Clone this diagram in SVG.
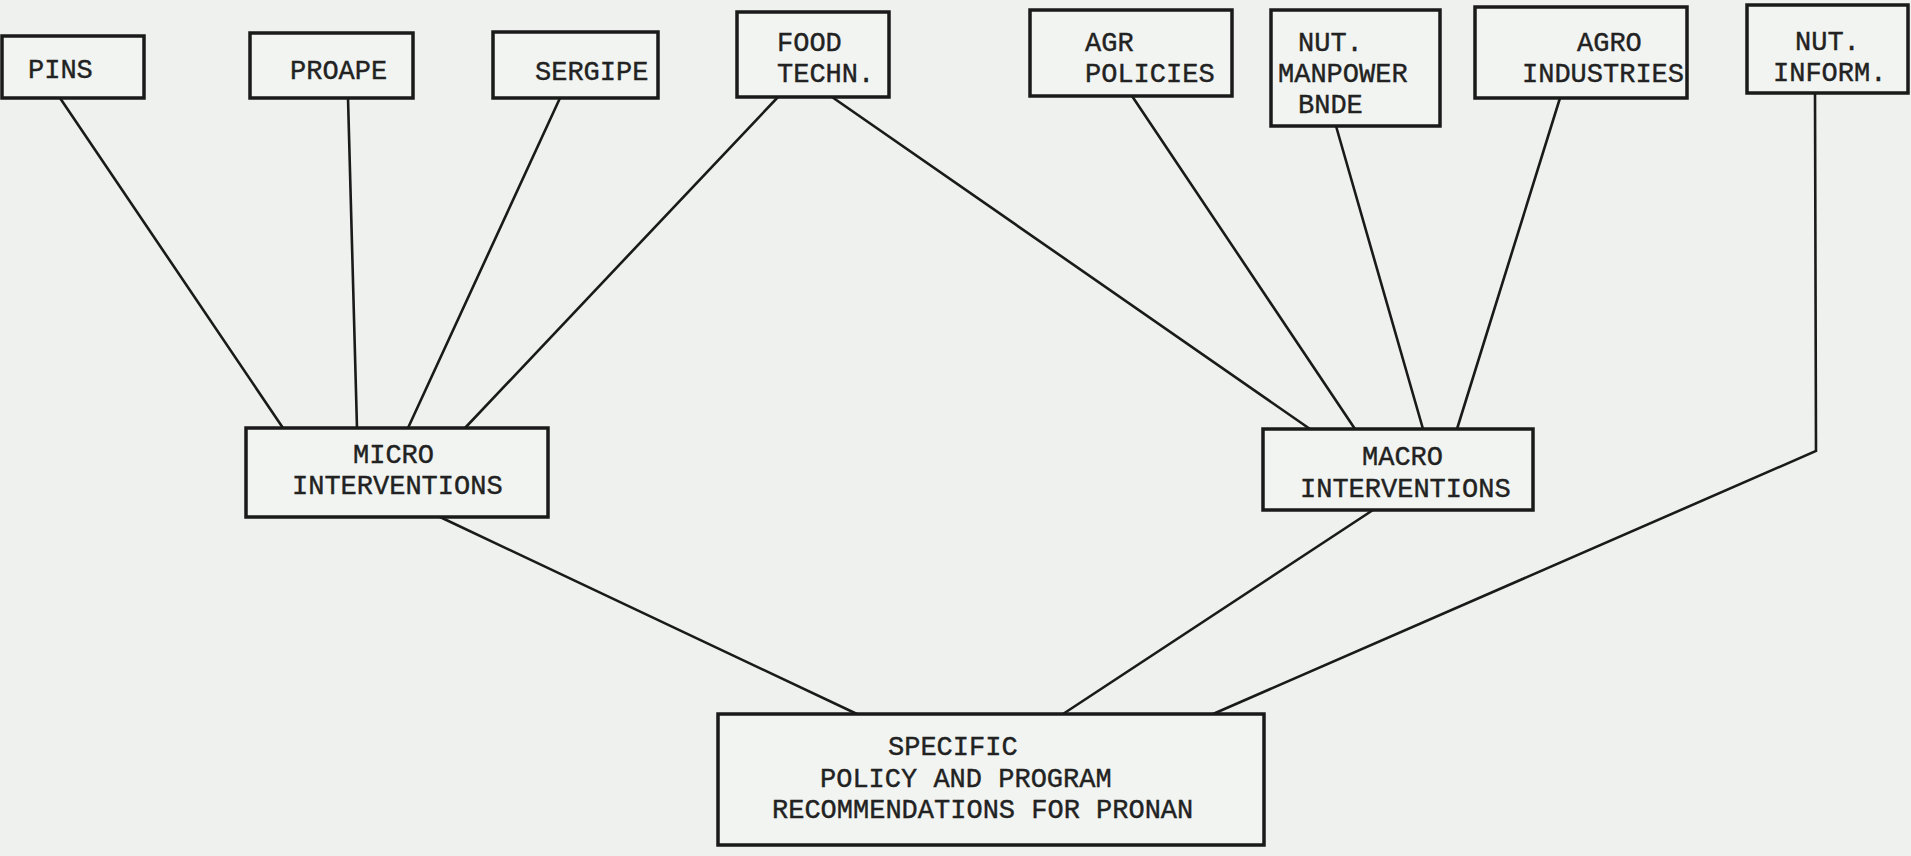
<svg xmlns="http://www.w3.org/2000/svg" width="1911" height="856" viewBox="0 0 1911 856">
<style>
.bg{fill:#eef1ee}
.box{fill:#f1f4f1;stroke:#1a1a1a;stroke-width:3.5}
.t{font-family:"Liberation Mono","Courier New",monospace;font-size:27px;fill:#222;stroke:#222;stroke-width:0.4}
.c{stroke:#1a1a1a;stroke-width:2.6;fill:none;stroke-linecap:round}
</style>
<rect class="bg" x="0" y="0" width="1911" height="856"/>
<g id="connectors">
<line class="c" x1="60" y1="98" x2="283" y2="428"/>
<line class="c" x1="348" y1="98" x2="357" y2="428"/>
<line class="c" x1="560" y1="98" x2="408" y2="428"/>
<line class="c" x1="778" y1="97" x2="465" y2="428"/>
<line class="c" x1="832" y1="97" x2="1310" y2="429"/>
<line class="c" x1="1132" y1="96" x2="1355" y2="429"/>
<line class="c" x1="1336" y1="126" x2="1423" y2="429"/>
<line class="c" x1="1560" y1="98" x2="1457" y2="429"/>
<polyline class="c" points="1815,93 1816,451 1213,714"/>
<line class="c" x1="440" y1="517" x2="857" y2="714"/>
<line class="c" x1="1373" y1="510" x2="1063" y2="714"/>
</g>
<g id="pins"><rect class="box" x="2" y="36" width="142" height="62"/><text class="t" x="28" y="78">PINS</text></g>
<g id="proape"><rect class="box" x="250" y="33" width="163" height="65"/><text class="t" x="290" y="79">PROAPE</text></g>
<g id="sergipe"><rect class="box" x="493" y="32" width="165" height="66"/><text class="t" x="535" y="80">SERGIPE</text></g>
<g id="food-techn"><rect class="box" x="737" y="12" width="152" height="85"/><text class="t" x="777" y="51">FOOD</text><text class="t" x="777" y="82">TECHN.</text></g>
<g id="agr-policies"><rect class="box" x="1030" y="10" width="202" height="86"/><text class="t" x="1085" y="51">AGR</text><text class="t" x="1085" y="82">POLICIES</text></g>
<g id="nut-manpower"><rect class="box" x="1271" y="10" width="169" height="116"/><text class="t" x="1298" y="51">NUT.</text><text class="t" x="1278" y="82">MANPOWER</text><text class="t" x="1298" y="113">BNDE</text></g>
<g id="agro-industries"><rect class="box" x="1475" y="7" width="212" height="91"/><text class="t" x="1577" y="51">AGRO</text><text class="t" x="1522" y="82">INDUSTRIES</text></g>
<g id="nut-inform"><rect class="box" x="1747" y="5" width="161" height="88"/><text class="t" x="1795" y="50">NUT.</text><text class="t" x="1773" y="81">INFORM.</text></g>
<g id="micro"><rect class="box" x="246" y="428" width="302" height="89"/><text class="t" x="353" y="463">MICRO</text><text class="t" x="292" y="494">INTERVENTIONS</text></g>
<g id="macro"><rect class="box" x="1263" y="429" width="270" height="81"/><text class="t" x="1362" y="465">MACRO</text><text class="t" x="1300" y="497">INTERVENTIONS</text></g>
<g id="specific"><rect class="box" x="718" y="714" width="546" height="131"/><text class="t" x="888" y="755">SPECIFIC</text><text class="t" x="820" y="787">POLICY AND PROGRAM</text><text class="t" x="772" y="818">RECOMMENDATIONS FOR PRONAN</text></g>
</svg>
